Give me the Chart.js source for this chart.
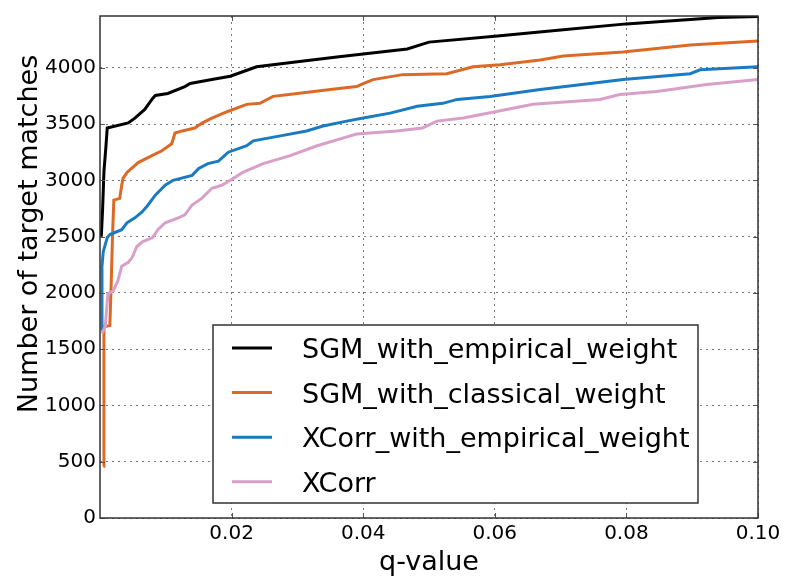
<!DOCTYPE html>
<html>
<head>
<meta charset="utf-8">
<script src="https://cdn.jsdelivr.net/npm/chart.js@4.4.1/dist/chart.umd.min.js"></script>
<style>
  html, body { margin: 0; padding: 0; background: #fff; }
</style>
</head>
<body>
<canvas id="grafico" width="787" height="583"></canvas>
<script>
// ===== Dados (q-value x número de matches) =====
const qSgmEmp = [0.0002, 0.0004, 0.0006, 0.0009, 0.0011, 0.0043, 0.0053, 0.0068, 0.0080, 0.0084, 0.0103, 0.0129, 0.0137, 0.0170, 0.0198, 0.0238, 0.0300, 0.0360, 0.0400, 0.0467, 0.0500, 0.0600, 0.0700, 0.0800, 0.0940, 0.1000];
const nSgmEmp = [2500, 2750, 3080, 3300, 3465, 3510, 3553, 3630, 3728, 3754, 3772, 3833, 3860, 3895, 3925, 4009, 4053, 4096, 4123, 4167, 4228, 4280, 4335, 4390, 4447, 4456];

const qSgmCla = [0.0005, 0.0006, 0.0015, 0.0017, 0.0019, 0.0021, 0.0030, 0.0033, 0.0035, 0.0041, 0.0058, 0.0079, 0.0094, 0.0109, 0.0114, 0.0125, 0.0144, 0.0155, 0.0170, 0.0195, 0.0223, 0.0243, 0.0263, 0.0300, 0.0350, 0.0390, 0.0400, 0.0415, 0.0460, 0.0527, 0.0567, 0.0608, 0.0669, 0.0704, 0.0795, 0.0897, 0.1000];
const nSgmCla = [460, 1700, 1710, 2080, 2500, 2824, 2840, 2956, 3018, 3070, 3158, 3219, 3263, 3325, 3421, 3439, 3465, 3509, 3553, 3614, 3675, 3684, 3746, 3772, 3807, 3833, 3860, 3895, 3939, 3947, 4009, 4026, 4070, 4105, 4140, 4202, 4237];

const qXcorrEmp = [0.0002, 0.0003, 0.0005, 0.0011, 0.0015, 0.0033, 0.0041, 0.0053, 0.0064, 0.0073, 0.0084, 0.0099, 0.0111, 0.0140, 0.0150, 0.0164, 0.0180, 0.0195, 0.0223, 0.0233, 0.0274, 0.0314, 0.0339, 0.0375, 0.0400, 0.0441, 0.0482, 0.0521, 0.0543, 0.0593, 0.0669, 0.0745, 0.0795, 0.0897, 0.0912, 0.1000];
const nXcorrEmp = [1670, 2237, 2368, 2491, 2518, 2561, 2623, 2667, 2719, 2781, 2868, 2956, 3000, 3044, 3105, 3149, 3170, 3250, 3307, 3351, 3395, 3439, 3483, 3526, 3553, 3597, 3658, 3684, 3719, 3745, 3807, 3860, 3895, 3947, 3982, 4009];

const qXcorr = [0.0003, 0.0008, 0.0012, 0.0020, 0.0027, 0.0033, 0.0043, 0.0049, 0.0056, 0.0065, 0.0080, 0.0088, 0.0099, 0.0119, 0.0129, 0.0140, 0.0155, 0.0170, 0.0185, 0.0198, 0.0217, 0.0248, 0.0289, 0.0330, 0.0365, 0.0390, 0.0451, 0.0490, 0.0512, 0.0552, 0.0593, 0.0658, 0.0760, 0.0790, 0.0846, 0.0922, 0.1000];
const nXcorr = [1640, 1702, 1991, 2018, 2105, 2237, 2272, 2316, 2412, 2456, 2491, 2561, 2623, 2667, 2693, 2781, 2842, 2930, 2956, 3000, 3070, 3149, 3219, 3307, 3368, 3412, 3439, 3465, 3526, 3553, 3600, 3675, 3719, 3763, 3790, 3851, 3895];

const seriesLabels = ['SGM_with_empirical_weight', 'SGM_with_classical_weight', 'XCorr_with_empirical_weight', 'XCorr'];
const seriesColors = ['#000000', '#dc6a26', '#1a7ac2', '#d8a0c8'];

const xTicks = [0.02, 0.04, 0.06, 0.08, 0.10];
const yTicks = [0, 500, 1000, 1500, 2000, 2500, 3000, 3500, 4000];

const FONT = "'DejaVu Sans', sans-serif";

function pontos(qs, ns) {
  return qs.map((q, i) => ({ x: q, y: ns[i] }));
}

// ===== Moldura, ticks internos, título do eixo y e legenda =====
const molduraPlugin = {
  id: 'moldura',
  afterDatasetsDraw(chart) {
    const { ctx, chartArea: a, scales } = chart;
    ctx.save();
    ctx.strokeStyle = '#555';
    ctx.lineWidth = 1;
    scales.x.ticks.forEach(t => {
      const px = Math.round(scales.x.getPixelForValue(t.value)) + 0.5;
      ctx.beginPath();
      ctx.moveTo(px, a.bottom); ctx.lineTo(px, a.bottom - 5);
      ctx.moveTo(px, a.top); ctx.lineTo(px, a.top + 5);
      ctx.stroke();
    });
    scales.y.ticks.forEach(t => {
      const py = Math.round(scales.y.getPixelForValue(t.value)) + 0.5;
      ctx.beginPath();
      ctx.moveTo(a.left, py); ctx.lineTo(a.left + 5, py);
      ctx.moveTo(a.right, py); ctx.lineTo(a.right - 5, py);
      ctx.stroke();
    });
    ctx.strokeStyle = '#333';
    ctx.lineWidth = 1.5;
    ctx.strokeRect(a.left, a.top, a.right - a.left, a.bottom - a.top);
    ctx.restore();
  },
  afterDraw(chart) {
    const ctx = chart.ctx;
    ctx.save();
    // título do eixo y
    ctx.translate(37, 234);
    ctx.rotate(-Math.PI / 2);
    ctx.fillStyle = '#000';
    ctx.font = '27px ' + FONT;
    ctx.textAlign = 'center';
    ctx.textBaseline = 'alphabetic';
    ctx.fillText('Number of target matches', 0, 0);
    ctx.restore();

    // legenda
    ctx.save();
    ctx.fillStyle = '#fff';
    ctx.fillRect(213, 325, 485, 178);
    ctx.strokeStyle = '#333';
    ctx.lineWidth = 1.5;
    ctx.strokeRect(213, 325, 485, 178);
    ctx.font = '27px ' + FONT;
    ctx.textAlign = 'left';
    ctx.textBaseline = 'alphabetic';
    chart.data.datasets.forEach((ds, i) => {
      const y = 348 + i * 44.6;
      ctx.strokeStyle = ds.borderColor;
      ctx.lineWidth = 3;
      ctx.beginPath();
      ctx.moveTo(232, y); ctx.lineTo(272, y);
      ctx.stroke();
      ctx.fillStyle = '#000';
      ctx.fillText(ds.label, 302, y + 10);
    });
    ctx.restore();
  }
};

const datasets = [
  pontos(qSgmEmp, nSgmEmp),
  pontos(qSgmCla, nSgmCla),
  pontos(qXcorrEmp, nXcorrEmp),
  pontos(qXcorr, nXcorr)
].map((data, i) => ({
  label: seriesLabels[i],
  data: data,
  borderColor: seriesColors[i],
  backgroundColor: seriesColors[i],
  borderWidth: 3,
  pointRadius: 0,
  tension: 0,
  fill: false,
  order: 3 - i
}));

new Chart(document.getElementById('grafico').getContext('2d'), {
  type: 'line',
  data: { datasets: datasets },
  options: {
    responsive: false,
    animation: false,
    devicePixelRatio: 1,
    layout: { padding: { left: 0, right: 29, top: 8, bottom: 0 } },
    plugins: { legend: { display: false }, tooltip: { enabled: false } },
    scales: {
      x: {
        type: 'linear',
        min: 0,
        max: 0.1,
        afterBuildTicks: s => { s.ticks = xTicks.map(v => ({ value: v })); },
        afterFit: s => { s.height = 65; },
        grid: { color: '#777', lineWidth: 1, drawTicks: false },
        border: { display: false, dash: [2, 4] },
        ticks: {
          color: '#000',
          padding: 4,
          maxRotation: 0,
          font: { family: FONT, size: 20 },
          callback: v => v.toFixed(2)
        },
        title: {
          display: true,
          text: 'q-value',
          color: '#000',
          font: { family: FONT, size: 27 },
          padding: { top: 0, bottom: 4 }
        }
      },
      y: {
        type: 'linear',
        min: 0,
        max: 4460,
        afterBuildTicks: s => { s.ticks = yTicks.map(v => ({ value: v })); },
        afterFit: s => { s.width = 100; },
        grid: { color: '#777', lineWidth: 1, drawTicks: false },
        border: { display: false, dash: [2, 4] },
        ticks: {
          color: '#000',
          padding: 4,
          font: { family: FONT, size: 20 },
          callback: v => String(v)
        }
      }
    }
  },
  plugins: [molduraPlugin]
});
</script>
</body>
</html>
